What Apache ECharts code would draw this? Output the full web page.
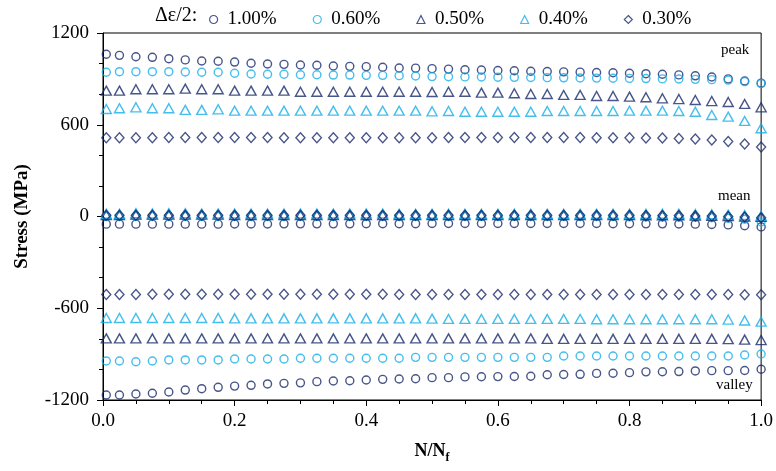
<!DOCTYPE html>
<html>
<head>
<meta charset="utf-8">
<script src="https://cdn.jsdelivr.net/npm/echarts@6/dist/echarts.min.js"></script>
<style>html,body{margin:0;padding:0;background:#fff;}#c{width:776px;height:471px;}</style>
</head>
<body>
<div id="c"></div>
<script>
const levels = ['1.00%', '0.60%', '0.50%', '0.40%', '0.30%'];
const xValues = [0.005,0.025,0.05,0.075,0.1,0.125,0.15,0.175,0.2,0.225,0.25,0.275,0.3,0.325,0.35,0.375,0.4,0.425,0.45,0.475,0.5,0.525,0.55,0.575,0.6,0.625,0.65,0.675,0.7,0.725,0.75,0.775,0.8,0.825,0.85,0.875,0.9,0.925,0.95,0.975,1.0];
const xTicks = [0.0, 0.2, 0.4, 0.6, 0.8, 1.0];
const yTicks = [-1200, -600, 0, 600, 1200];

const peak100 = [1061,1054,1045,1041,1032,1024,1017,1015,1010,1002,997,995,991,989,984,982,980,976,971,970,967,964,960,958,955,953,950,948,946,944,942,940,937,934,930,926,920,912,900,886,872];
const peak060 = [943,947,947,947,947,945,943,943,937,932,930,930,927,927,925,925,923,923,921,919,915,914,913,912,911,910,909,908,907,906,905,904,903,902,900,899,897,895,892,882,870];
const peak050 = [823,823,832,832,832,836,832,832,823,823,823,823,816,816,816,816,816,816,816,816,814,816,816,810,810,806,801,801,795,795,788,788,784,780,773,768,762,755,749,736,714];
const peak040 = [703,708,714,708,708,697,697,701,692,692,692,692,692,692,692,692,692,692,692,692,688,690,685,685,685,685,685,690,690,690,690,690,692,692,692,690,685,664,653,625,577];
const peak030 = [515,515,515,515,517,517,517,517,517,517,517,515,515,515,515,515,515,515,515,515,515,517,517,517,517,517,517,517,517,517,515,515,515,513,513,510,507,500,490,474,455];

const mean100 = [-50,-50,-50,-50,-50,-50,-50,-50,-49,-49,-49,-48,-48,-48,-48,-48,-47,-47,-47,-47,-46,-46,-46,-46,-46,-46,-46,-46,-46,-46,-46,-47,-47,-48,-48,-49,-50,-52,-55,-60,-68];
const mean060 = [0,0,0,0,0,0,0,0,0,0,0,0,0,0,0,0,0,0,0,0,0,0,0,0,0,0,0,0,0,0,0,0,-2,-3,-4,-5,-6,-8,-12,-18,-35];
const mean050 = [10,10,12,12,12,12,12,12,10,10,10,10,10,10,10,10,10,10,10,10,10,10,10,10,10,10,10,10,10,10,10,10,10,8,8,8,6,5,3,0,-3];
const mean040 = [18,18,22,20,22,22,20,20,20,20,20,20,20,20,20,20,20,20,18,18,18,18,18,18,18,18,18,18,18,18,18,18,18,18,18,18,16,15,12,10,5];
const mean030 = [8,8,8,8,8,8,8,8,8,8,8,8,8,8,8,8,8,8,8,8,8,8,8,8,8,8,8,8,8,8,8,8,8,6,6,6,4,3,0,-3,-8];

const valley100 = [-1167,-1167,-1161,-1156,-1148,-1135,-1126,-1117,-1109,-1104,-1095,-1091,-1088,-1080,-1076,-1074,-1069,-1065,-1063,-1061,-1054,-1054,-1049,-1048,-1047,-1046,-1045,-1035,-1033,-1032,-1026,-1025,-1021,-1016,-1015,-1014,-1010,-1008,-1008,-1007,-999];
const valley060 = [-945,-945,-950,-945,-938,-938,-938,-938,-932,-932,-932,-932,-927,-927,-927,-927,-927,-927,-927,-921,-921,-921,-921,-921,-921,-921,-921,-921,-912,-912,-912,-912,-912,-912,-912,-912,-912,-912,-912,-906,-899];
const valley050 = [-797,-797,-797,-797,-797,-797,-797,-797,-797,-797,-797,-797,-797,-797,-797,-797,-797,-797,-797,-797,-797,-797,-797,-797,-797,-797,-797,-800,-800,-800,-800,-800,-800,-800,-800,-800,-800,-800,-802,-805,-808];
const valley040 = [-664,-664,-664,-664,-664,-664,-664,-664,-666,-666,-666,-666,-666,-666,-666,-666,-666,-666,-666,-666,-668,-670,-670,-670,-670,-670,-670,-670,-670,-670,-672,-672,-672,-672,-672,-672,-672,-672,-674,-680,-688];
const valley030 = [-510,-510,-510,-508,-508,-508,-508,-508,-508,-508,-508,-508,-508,-508,-508,-508,-508,-508,-510,-510,-510,-510,-510,-510,-510,-510,-510,-510,-510,-510,-510,-510,-510,-510,-510,-510,-510,-510,-510,-512,-512];

const peaks = [peak100, peak060, peak050, peak040, peak030];
const means = [mean100, mean060, mean050, mean040, mean030];
const valleys = [valley100, valley060, valley050, valley040, valley030];

const DARK = '#1a2a6c';
const LIGHT = '#15aeea';
const colors = [DARK, LIGHT, DARK, LIGHT, DARK];
const symbols = ['circle', 'circle', 'triangle', 'triangle', 'diamond'];
const sizes = [[8,8],[8,8],[10,9],[10,9],[9,10]];
const FONT = 'Liberation Serif';

function pairs(arr) { return xValues.map((x, i) => [x, arr[i]]); }

const series = levels.map((name, k) => ({
  name: name,
  type: 'scatter',
  symbol: symbols[k],
  symbolSize: sizes[k],
  itemStyle: { color: 'rgba(255,255,255,0)', borderColor: colors[k], borderWidth: 1.4 },
  emphasis: { disabled: true },
  data: pairs(peaks[k]).concat(pairs(means[k]), pairs(valleys[k]))
}));

const chart = echarts.init(document.getElementById('c'), null, { renderer: 'canvas' });
chart.setOption({
  animation: false,
  backgroundColor: '#fff',
  grid: { left: 103, right: 14, top: 33, bottom: 71, show: true, borderColor: '#000', borderWidth: 1, backgroundColor: 'transparent' },
  legend: {
    data: levels,
    left: 209, top: 10, padding: 0,
    itemWidth: 8, itemHeight: 8, itemGap: 36,
    itemStyle: { borderWidth: 1.2 },
    textStyle: { fontFamily: FONT, fontSize: 19, color: '#000', padding: [0, 0, 0, 5] }
  },
  graphic: [
    { type: 'text', left: 155, top: 6, style: { text: 'Δε/2:', font: '20px "Liberation Serif"', fill: '#000' } },
    { type: 'text', left: 721, top: 43, style: { text: 'peak', font: '15px "Liberation Serif"', fill: '#000' } },
    { type: 'text', left: 718, top: 189, style: { text: 'mean', font: '15px "Liberation Serif"', fill: '#000' } },
    { type: 'text', left: 716, top: 378, style: { text: 'valley', font: '15px "Liberation Serif"', fill: '#000' } }
  ],
  xAxis: {
    type: 'value', min: 0, max: 1, interval: 0.2,
    name: '{b|N/N}{s|f}', nameLocation: 'middle', nameGap: 42,
    nameTextStyle: { rich: {
      b: { fontFamily: FONT, fontSize: 18, fontWeight: 'bold', color: '#000', verticalAlign: 'top' },
      s: { fontFamily: FONT, fontSize: 12, fontWeight: 'bold', color: '#000', padding: [10, 0, 0, 0], verticalAlign: 'top' }
    } },
    axisLine: { onZero: false, lineStyle: { color: '#000', width: 1 } },
    axisTick: { show: true, inside: false, length: 6, lineStyle: { color: '#000' } },
    minorTick: { show: true, splitNumber: 4, length: 4, lineStyle: { color: '#000' } },
    splitLine: { show: false },
    axisLabel: { fontFamily: FONT, fontSize: 19, color: '#000', margin: 12,
      formatter: v => xTicks.includes(Math.round(v * 10) / 10) ? v.toFixed(1) : '' }
  },
  yAxis: {
    type: 'value', min: -1200, max: 1200, interval: 600,
    name: 'Stress (MPa)', nameLocation: 'middle', nameGap: 71,
    nameTextStyle: { fontFamily: FONT, fontSize: 19, fontWeight: 'bold', color: '#000' },
    axisLine: { show: true, onZero: false, lineStyle: { color: '#000', width: 1 } },
    axisTick: { show: true, inside: false, length: 6, lineStyle: { color: '#000' } },
    minorTick: { show: true, splitNumber: 3, length: 4, lineStyle: { color: '#000' } },
    splitLine: { show: false },
    axisLabel: { fontFamily: FONT, fontSize: 19, color: '#000', margin: 14,
      formatter: v => yTicks.includes(v) ? String(v) : '' }
  },
  series: series
});
</script>
</body>
</html>
